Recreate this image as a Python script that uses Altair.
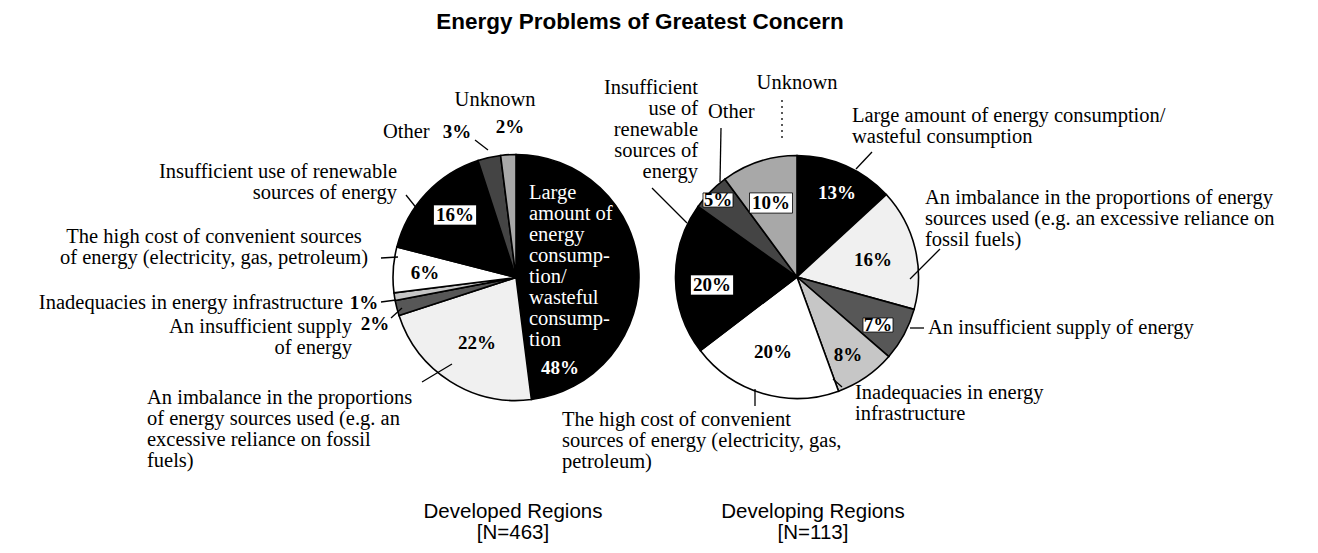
import altair as alt
import pandas as pd

# ---------------- data ----------------
categories = [
    "Large amount of energy consumption/wasteful consumption",
    "An imbalance in the proportions of energy sources used",
    "An insufficient supply of energy",
    "Inadequacies in energy infrastructure",
    "The high cost of convenient sources of energy",
    "Insufficient use of renewable sources of energy",
    "Other",
    "Unknown",
]
developed_pct = [48, 22, 2, 1, 6, 16, 3, 2]
developing_pct = [13, 16, 7, 8, 20, 20, 5, 10]
slice_fills = ["#000000", "#f0f0f0", "#575757", "#c6c6c6",
               "#ffffff", "#000000", "#444444", "#a8a8a8"]

title_text = "Energy Problems of Greatest Concern"
region_names = ["Developed Regions", "Developing Regions"]
region_n = ["[N=463]", "[N=113]"]

# ---------------- layout (page pixels) ----------------
M = 8  # page margin
PIES = [(516, 277.5, 123), (797, 277, 121.5)]
SERIF = "Liberation Serif"
SANS = "Liberation Sans"
FS = 20.5
LH = 21
PFS = 19
CFS = 20.5

# category labels: (text, x, first-line centre y, align)
cat_labels = [
    ("Unknown", 495, 100, "center"),
    ("Other", 383, 132, "left"),
    ("Insufficient use of renewable\nsources of energy", 397, 172, "right"),
    ("The high cost of convenient sources\nof energy (electricity, gas, petroleum)", 214, 237, "center"),
    ("Inadequacies in energy infrastructure", 343, 303, "right"),
    ("An insufficient supply\nof energy", 352, 327, "right"),
    ("An imbalance in the proportions\nof energy sources used (e.g. an\nexcessive reliance on fossil\nfuels)", 147, 398, "left"),
    ("Insufficient\nuse of\nrenewable\nsources of\nenergy", 698, 88, "right"),
    ("Other", 708, 112, "left"),
    ("Unknown", 797, 83, "center"),
    ("Large amount of energy consumption/\nwasteful consumption", 852, 116, "left"),
    ("An imbalance in the proportions of energy\nsources used (e.g. an excessive reliance on\nfossil fuels)", 925, 198, "left"),
    ("An insufficient supply of energy", 928, 328, "left"),
    ("Inadequacies in energy\ninfrastructure", 855, 393, "left"),
    ("The high cost of convenient\nsources of energy (electricity, gas,\npetroleum)", 562, 420, "left"),
]
inside_text = "Large\namount of\nenergy\nconsump-\ntion/\nwasteful\nconsump-\ntion"
inside_pos = (529, 193)

# percent label positions per slice (x, y centre, style)
developed_pct_pos = [(560, 368, "inverse"), (477, 343, "plain"), (375, 324, "plain"),
                     (364, 303, "plain"), (425, 273, "plain"), (455, 215, "box"),
                     (457, 132, "plain"), (510, 127, "plain")]
developing_pct_pos = [(837, 193, "inverse"), (873, 260, "plain"), (878, 325, "box"),
                      (848, 355, "plain"), (773, 352, "plain"), (712, 285, "box"),
                      (718, 200, "box"), (771, 203, "box")]

# leader lines (x1, y1, x2, y2, dashed)
leaders = [
    (475, 140, 488, 150, 0), (406, 195, 418, 210, 0), (381, 258, 398, 257, 0),
    (381, 302, 396, 300, 0), (391, 318, 402, 308, 0), (422, 382, 452, 364, 0),
    (652, 188, 687, 223, 0), (721, 128, 720, 182, 0), (782, 100, 782, 140, 1),
    (872, 152, 856, 169, 0), (940, 249, 910, 279, 0), (910, 328, 924, 328, 0),
    (833, 379, 842, 387, 0), (755, 389, 755, 406, 0),
]

# ---------------- build ----------------
def pie(values, cx, cy, r):
    d = pd.DataFrame({"category": categories, "value": values,
                      "order": list(range(len(categories)))})
    return alt.Chart(d).mark_arc(outerRadius=r, stroke="black", strokeWidth=1.6).encode(
        theta=alt.Theta("value:Q", stack=True),
        order=alt.Order("order:Q", sort="ascending"),
        color=alt.Color("category:N", scale=alt.Scale(domain=categories, range=slice_fills),
                        legend=None),
        x=alt.value(cx - M), y=alt.value(cy - M),
    )


def XY():
    return dict(x=alt.X("x:Q", scale=None, axis=None), y=alt.Y("y:Q", scale=None, axis=None))


layers = [pie(developed_pct, *PIES[0]), pie(developing_pct, *PIES[1])]

# category labels
for align in ["left", "right", "center"]:
    rows = [{"text": t, "x": x - M, "y": y - M + 0.3 * FS}
            for (t, x, y, a) in cat_labels if a == align]
    layers.append(alt.Chart(pd.DataFrame(rows)).mark_text(
        font=SERIF, fontSize=FS, align=align, baseline="alphabetic",
        lineBreak="\n", lineHeight=LH, color="black").encode(text="text:N", **XY()))

# inside white text
layers.append(alt.Chart(pd.DataFrame([{"text": inside_text, "x": inside_pos[0] - M,
                                      "y": inside_pos[1] - M + 0.3 * FS}])).mark_text(
    font=SERIF, fontSize=FS, align="left", baseline="alphabetic", lineBreak="\n",
    lineHeight=21, color="white").encode(text="text:N", **XY()))

# leader lines
ld = pd.DataFrame([{"x": a - M, "y": b - M, "x2": c - M, "y2": d - M, "dash": e}
                   for (a, b, c, d, e) in leaders])
layers.append(alt.Chart(ld).transform_filter("datum.dash == 0").mark_rule(
    color="black", strokeWidth=1.3).encode(
    x2="x2:Q", y2="y2:Q", **XY()))
layers.append(alt.Chart(ld).transform_filter("datum.dash == 1").mark_rule(
    color="black", strokeWidth=1.3, strokeDash=[2, 4]).encode(
    x2="x2:Q", y2="y2:Q", **XY()))

# percent labels
prow = []
for vals, poss in [(developed_pct, developed_pct_pos), (developing_pct, developing_pct_pos)]:
    for v, (x, y, s) in zip(vals, poss):
        prow.append({"text": f"{v}%", "x": x - M, "y": y - M, "style": s})
pdf = pd.DataFrame(prow)
layers.append(alt.Chart(pdf).transform_filter("datum.style == 'box'").transform_calculate(
    w="13*length(datum.text)+4", sz="datum.w*datum.w").mark_point(
    shape="M-1,-0.47H1V0.47H-1Z", filled=True, color="white", opacity=1,
    stroke="black", strokeWidth=0.8).encode(
    size=alt.Size("sz:Q", scale=None, legend=None), **XY()))
for style, col in [("plain", "black"), ("box", "black"), ("inverse", "white")]:
    layers.append(alt.Chart(pdf).transform_filter(f"datum.style == '{style}'").transform_calculate(
        yb=f"datum.y + {0.3 * PFS}").mark_text(
        font=SERIF, fontSize=PFS, fontWeight="bold", align="center", baseline="alphabetic",
        color=col).encode(text="text:N", x=alt.X("x:Q", scale=None, axis=None),
                          y=alt.Y("yb:Q", scale=None, axis=None)))

# title and region captions
caps = [{"text": title_text, "x": 640 - M, "y": 22 - M + 0.3 * 22.5, "w": "bold"}]
for name, n, cx in zip(region_names, region_n, [513, 813]):
    caps.append({"text": name, "x": cx - M, "y": 511.5 - M + 0.3 * CFS, "w": "normal"})
    caps.append({"text": n, "x": cx - M, "y": 533 - M + 0.3 * CFS, "w": "normal"})
cdf = pd.DataFrame(caps)
layers.append(alt.Chart(cdf).transform_filter("datum.w == 'bold'").mark_text(
    font=SANS, fontSize=22.5, fontWeight="bold", align="center", baseline="alphabetic",
    color="black").encode(text="text:N", **XY()))
layers.append(alt.Chart(cdf).transform_filter("datum.w == 'normal'").mark_text(
    font=SANS, fontSize=CFS, align="center", baseline="alphabetic",
    color="black").encode(text="text:N", **XY()))

chart = alt.layer(*layers).resolve_scale(theta="independent").properties(
    width=1302, height=537, autosize="none", padding=0, background="white",
).configure_view(stroke=None)

chart.save("out.html", embed_options={"renderer": "svg", "actions": False})
